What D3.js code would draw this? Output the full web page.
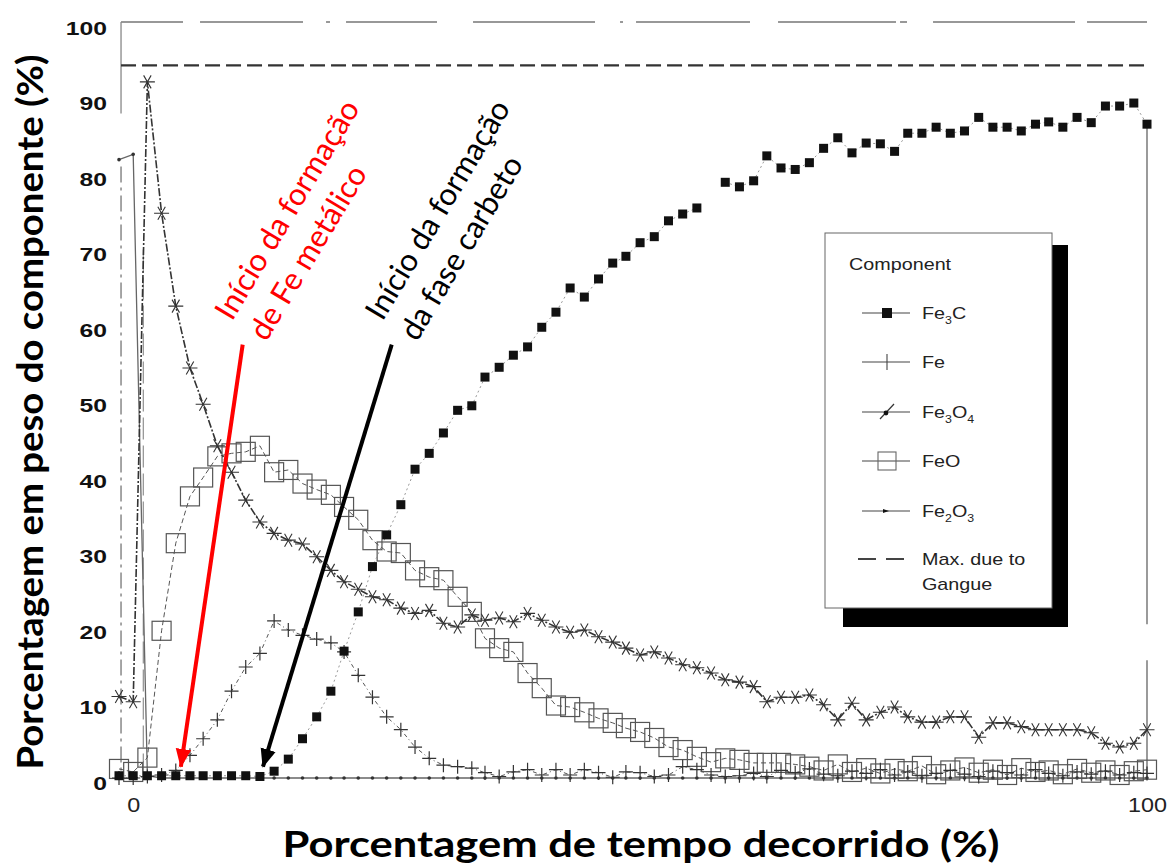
<!DOCTYPE html>
<html>
<head>
<meta charset="utf-8">
<script src="https://cdn.jsdelivr.net/npm/d3@7"></script>
<style>
  body { margin: 0; background: #fff; }
  svg { display: block; }
</style>
</head>
<body>
<svg id="chart" width="1168" height="866"></svg>
<script>
// Elapsed time (%) of each sample
const elapsed = [-1.4,0,1.4,2.8,4.2,5.6,6.9,8.3,9.7,11.1,12.5,13.9,15.3,16.7,18.1,19.5,20.8,22.2,23.6,25.0,
  26.4,27.8,29.2,30.6,32.0,33.4,34.7,36.1,37.5,38.9,40.3,41.7,43.1,44.5,45.9,47.3,48.6,50.0,51.4,52.8,
  54.2,55.6,57.0,58.4,59.8,61.2,62.5,63.9,65.3,66.7,68.1,69.5,70.9,72.3,73.7,75.1,76.4,77.8,79.2,80.6,
  82.0,83.4,84.8,86.2,87.6,89.0,90.3,91.7,93.1,94.5,95.9,97.3,98.7,100.0];

// Weight percent of each component
const fe3c = [0.3,0.3,0.3,0.3,0.3,0.3,0.3,0.3,0.3,0.3,0.2,0.9,2.5,5.2,8.1,11.5,16.8,22.0,28.0,32.2,
  36.2,40.9,43.0,45.7,48.7,49.3,53.1,54.4,56.0,57.1,59.7,61.7,64.9,63.7,66.1,68.2,69.1,70.9,71.7,73.8,
  74.7,75.5,null,78.9,78.3,79.1,82.4,80.8,80.6,81.5,83.4,84.8,82.8,84.1,84.0,83.0,85.4,85.4,86.2,85.4,
  85.7,87.5,86.2,86.2,85.7,86.6,86.9,86.2,87.5,86.8,89.0,89.0,89.4,86.6];
const fe = [0,0,0.2,0.4,1.0,3.0,5.2,7.7,11.5,14.7,16.5,20.8,19.6,18.9,18.4,17.9,16.7,13.6,10.7,8.1,
  6.4,4.1,2.6,1.7,1.5,1.3,0.7,0.2,0.8,1.1,0.4,1.1,0.4,1.1,0.7,0.1,0.8,0.7,0.2,0.4,
  1.5,1.1,0.4,0.2,0.3,0.6,0.2,1.0,0.7,1.2,0.5,0.3,0.9,0.6,1.1,0.4,0.8,0.3,0.6,1.0,
  0.5,0.2,0.9,0.7,0.4,1.1,0.6,0.3,0.8,0.5,0.9,0.4,0.7,0.6];
const fe3o4 = [10.8,10.1,92.2,74.8,62.5,54.3,49.5,44.0,40.5,36.8,33.9,32.4,31.5,31.0,29.3,27.5,26.0,25.0,24.0,23.6,
  22.5,21.8,22.2,20.5,20.0,21.6,20.9,21.2,20.7,21.8,20.9,20.0,19.3,19.6,18.7,18.0,17.2,16.3,16.7,15.9,
  15.0,14.6,13.9,13.0,12.7,12.1,10.1,10.7,10.7,11.0,9.7,7.7,9.9,7.7,8.7,9.4,8.1,7.4,7.4,8.1,
  8.1,5.4,7.3,7.3,6.8,6.4,6.4,6.4,6.4,6.0,4.6,4.1,4.6,6.4];
const feo = [1.2,0.8,2.7,19.5,31.1,37.3,39.8,42.6,43.0,43.2,44.0,40.5,40.8,39.0,38.2,37.5,35.9,34.2,31.5,30.0,
  29.8,27.5,26.6,26.2,24.0,22.0,18.5,17.2,16.7,13.9,11.9,9.6,9.4,8.7,7.9,7.3,6.6,6.1,5.3,4.1,
  3.7,2.8,2.1,2.6,2.4,2.0,2.0,2.0,1.8,1.5,1.0,1.8,0.8,1.3,0.6,1.2,0.9,1.6,0.5,1.0,
  1.4,0.7,1.1,0.4,1.3,0.8,1.0,0.5,1.2,0.7,1.0,0.4,0.9,1.1];
const fe2o3 = [81.9,82.6,0.3,0,0,0,0,0,0,0,0,0,0,0,0,0,0,0,0,0,
  0,0,0,0,0,0,0,0,0,0,0,0,0,0,0,0,0,0,0,0,
  0,0,0,0,0,0,0,0,0,0,0,0,0,0,0,0,0,0,0,0,
  0,0,0,0,0,0,0,0,0,0,0,0,0,0];
const gangueMax = 94.4;

const yTicks = [0,10,20,30,40,50,60,70,80,90,100];
const xTicks = [0,100];

const svg = d3.select('#chart');
const x = d3.scaleLinear().domain([-1.4, 100]).range([119, 1147]);
const y = d3.scaleLinear().domain([0, 100]).range([778, 23]);
const xLeft = -1.2;

const k = 1.3; // horizontal stretch of the figure's own lettering

// ---- frame -------------------------------------------------------------
const frame = svg.append('g').attr('stroke', '#777').attr('fill', 'none').attr('stroke-width', 1.3);
frame.append('line')
  .attr('x1', x(xLeft)).attr('x2', x(100)).attr('y1', y(100) - 1).attr('y2', y(100) - 1)
  .attr('stroke-dasharray', '62,17,103,23,4,16,91,36,122,25,3,13,114,28,118,4,7,26,142,12,61');
frame.append('line')
  .attr('x1', x(xLeft)).attr('x2', x(xLeft)).attr('y1', y(100) - 1).attr('y2', y(88))
  .attr('stroke', '#888');
frame.append('line')
  .attr('x1', x(xLeft)).attr('x2', x(xLeft)).attr('y1', y(81)).attr('y2', y(0))
  .attr('stroke-dasharray', '16,5,3,5');
frame.append('line')
  .attr('x1', x(1.0)).attr('x2', x(1.0)).attr('y1', y(70)).attr('y2', y(0))
  .attr('stroke', '#999').attr('stroke-dasharray', '22,6');
frame.append('line')
  .attr('x1', x(100)).attr('x2', x(100)).attr('y1', y(fe3c[fe3c.length - 1])).attr('y2', y(0))
  .attr('stroke', '#666').attr('stroke-dasharray', '500,36,200');

// maximum allowed by gangue
svg.append('line')
  .attr('x1', x(xLeft)).attr('x2', x(100))
  .attr('y1', y(gangueMax)).attr('y2', y(gangueMax))
  .attr('stroke', '#333').attr('stroke-width', 2.2).attr('stroke-dasharray', '15,6');

// ---- axes --------------------------------------------------------------
const yAxis = svg.append('g')
  .attr('transform', `translate(${x(xLeft)},0)`)
  .call(d3.axisLeft(y).tickValues(yTicks).tickSize(0).tickPadding(14).tickFormat(d3.format('d')));
yAxis.select('.domain').remove();
yAxis.selectAll('text')
  .attr('font-family', '"Liberation Sans", Arial, sans-serif')
  .attr('font-weight', 'bold').attr('font-size', 19).attr('fill', '#111')
  .attr('dy', null).attr('y', 11)
  .attr('x', -14 / k).attr('transform', `scale(${k},1)`);

const xAxis = svg.append('g')
  .attr('transform', `translate(0,${y(0)})`)
  .call(d3.axisBottom(x).tickValues(xTicks).tickSize(0).tickPadding(0).tickFormat(d3.format('d')));
xAxis.select('.domain').remove();
xAxis.selectAll('text')
  .attr('font-family', '"Liberation Sans", Arial, sans-serif')
  .attr('font-size', 20).attr('fill', '#222')
  .attr('dy', null).attr('y', 34)
  .attr('transform', `scale(${k * 0.9},1)`)
  .each(function () {
    const g = d3.select(this.parentNode);
    const tx = +g.attr('transform').match(/translate\(([-\d.]+)/)[1];
    d3.select(this).attr('x', 0);
  });

// ---- series ------------------------------------------------------------
const pts = vals => elapsed.map((t, i) => [t, vals[i]]).filter(d => d[1] != null);
const lineGen = d3.line().defined(d => d[1] != null).x(d => x(d[0])).y(d => y(d[1]));
const rows = vals => elapsed.map((t, i) => [t, vals[i]]);

const plusPath = r => `M${-r},0H${r}M0,${-r}V${r}`;
const starPath = r => {
  let p = '';
  [0, 60, 120].forEach(a => {
    const c = Math.cos(a * Math.PI / 180) * r, s = Math.sin(a * Math.PI / 180) * r;
    p += `M${-c},${-s}L${c},${s}`;
  });
  return p;
};

const plot = svg.append('g');

// Fe2O3
plot.append('path').attr('d', lineGen(rows(fe2o3)))
  .attr('fill', 'none').attr('stroke', '#666').attr('stroke-width', 1.3);
plot.append('g').selectAll('circle').data(pts(fe2o3)).join('circle')
  .attr('cx', d => x(d[0])).attr('cy', d => y(d[1])).attr('r', 1.8).attr('fill', '#333');

// FeO
plot.append('path').attr('d', lineGen(rows(feo)))
  .attr('fill', 'none').attr('stroke', '#555').attr('stroke-width', 1).attr('stroke-dasharray', '5,3');
plot.append('g').selectAll('rect').data(pts(feo)).join('rect')
  .attr('x', d => x(d[0]) - 9.5).attr('y', d => y(d[1]) - 9.5)
  .attr('width', 19).attr('height', 19)
  .attr('fill', 'none').attr('stroke', '#555').attr('stroke-width', 1.2);

// Fe
plot.append('path').attr('d', lineGen(rows(fe)))
  .attr('fill', 'none').attr('stroke', '#555').attr('stroke-width', 1).attr('stroke-dasharray', '4,3,1,3');
plot.append('g').selectAll('path').data(pts(fe)).join('path')
  .attr('transform', d => `translate(${x(d[0])},${y(d[1])})`)
  .attr('d', plusPath(7)).attr('stroke', '#333').attr('stroke-width', 1.2).attr('fill', 'none');

// Fe3O4
plot.append('path').attr('d', lineGen(rows(fe3o4)))
  .attr('fill', 'none').attr('stroke', '#333').attr('stroke-width', 1.6).attr('stroke-dasharray', '8,2,2,2');
plot.append('g').selectAll('path').data(pts(fe3o4)).join('path')
  .attr('transform', d => `translate(${x(d[0])},${y(d[1])})`)
  .attr('d', starPath(7.5)).attr('stroke', '#333').attr('stroke-width', 1.1).attr('fill', 'none');

// Fe3C
plot.append('path').attr('d', lineGen(rows(fe3c)))
  .attr('fill', 'none').attr('stroke', '#999').attr('stroke-width', 1).attr('stroke-dasharray', '2,3');
plot.append('g').selectAll('rect').data(pts(fe3c)).join('rect')
  .attr('x', d => x(d[0]) - 4.5).attr('y', d => y(d[1]) - 4.5)
  .attr('width', 9).attr('height', 9).attr('fill', '#111');

// ---- legend ------------------------------------------------------------
const legendItems = [
  { name: ['Fe', '3', 'C'], kind: 'fe3c', y: 313 },
  { name: ['Fe'], kind: 'fe', y: 362 },
  { name: ['Fe', '3', 'O', '4'], kind: 'fe3o4', y: 412 },
  { name: ['FeO'], kind: 'feo', y: 461 },
  { name: ['Fe', '2', 'O', '3'], kind: 'fe2o3', y: 511 },
  { name: ['Max. due to', 'Gangue'], kind: 'gangue', y: 559 }
];
const lg = svg.append('g');
lg.append('rect').attr('x', 843).attr('y', 245).attr('width', 225).attr('height', 382).attr('fill', '#000');
lg.append('rect').attr('x', 825).attr('y', 233).attr('width', 227).attr('height', 375)
  .attr('fill', '#fff').attr('stroke', '#666').attr('stroke-width', 1);
const lgFont = '"Liberation Sans", Arial, sans-serif';
lg.append('text').attr('transform', `translate(849,270) scale(${k * 0.95},1)`)
  .attr('font-family', lgFont).attr('font-size', 16).attr('fill', '#222').text('Component');

legendItems.forEach(it => {
  const g = lg.append('g').attr('transform', `translate(0,${it.y})`);
  if (it.kind === 'gangue') {
    g.append('line').attr('x1', 858).attr('x2', 910).attr('stroke', '#444').attr('stroke-width', 2)
      .attr('stroke-dasharray', '18,10');
  } else {
    g.append('line').attr('x1', 862).attr('x2', 910).attr('stroke', '#444').attr('stroke-width', 1.1);
  }
  if (it.kind === 'fe3c') g.append('rect').attr('x', 882).attr('y', -5).attr('width', 10).attr('height', 10).attr('fill', '#111');
  if (it.kind === 'fe') g.append('path').attr('transform', 'translate(887,0)').attr('d', `M0,-8V8`).attr('stroke', '#444').attr('stroke-width', 1.1);
  if (it.kind === 'fe3o4') {
    g.append('path').attr('d', 'M880,7L894,-8').attr('stroke', '#333').attr('stroke-width', 1.2);
    g.append('circle').attr('cx', 886).attr('cy', 1).attr('r', 2.4).attr('fill', '#111');
  }
  if (it.kind === 'feo') g.append('rect').attr('x', 878).attr('y', -9).attr('width', 18).attr('height', 18)
    .attr('fill', 'none').attr('stroke', '#666').attr('stroke-width', 1.1);
  if (it.kind === 'fe2o3') g.append('path').attr('d', 'M883,-2L889,0L883,2Z').attr('fill', '#111');

  const t = g.append('text').attr('transform', `translate(922,6) scale(${k * 0.95},1)`)
    .attr('font-family', lgFont).attr('font-size', 16).attr('fill', '#222');
  if (it.kind === 'gangue') {
    t.append('tspan').attr('x', 0).text(it.name[0]);
    t.append('tspan').attr('x', 0).attr('dy', 25).text(it.name[1]);
  } else {
    it.name.forEach((s, i) => {
      const sub = /^\d$/.test(s);
      t.append('tspan').attr('font-size', sub ? 10 : 16).attr('dy', sub ? 5 : (i > 0 ? -5 : 0)).text(s);
    });
  }
});

// ---- annotations -------------------------------------------------------
const notes = [
  { lines: ['Início da formação', 'de Fe metálico'], color: '#ff0000', at: [9.75, 60.4], from: [10.8, 57.4], to: [4.7, 1.5] },
  { lines: ['Início da formação', 'da fase carbeto'], color: '#000000', at: [24.6, 60.4], from: [25.5, 57.4], to: [12.8, 1.5] }
];
const defs = svg.append('defs');
notes.forEach((n, i) => {
  defs.append('marker').attr('id', 'head' + i)
    .attr('markerUnits', 'userSpaceOnUse').attr('markerWidth', 20).attr('markerHeight', 20)
    .attr('viewBox', '0 -8 18 16').attr('refX', 16).attr('refY', 0).attr('orient', 'auto')
    .append('path').attr('d', 'M0,-7L17,0L0,7Z').attr('fill', n.color);
  svg.append('line')
    .attr('x1', x(n.from[0])).attr('y1', y(n.from[1]))
    .attr('x2', x(n.to[0])).attr('y2', y(n.to[1]))
    .attr('stroke', n.color).attr('stroke-width', 4)
    .attr('marker-end', `url(#head${i})`);
  const t = svg.append('text')
    .attr('transform', `translate(${x(n.at[0])},${y(n.at[1])}) rotate(-59)`)
    .attr('font-family', 'Lato, "Open Sans", sans-serif').attr('font-size', 31).attr('fill', n.color);
  n.lines.forEach((s, j) => t.append('tspan').attr('x', 0).attr('dy', j ? 40 : 0).text(s));
});

// ---- axis titles -------------------------------------------------------
svg.append('text')
  .attr('x', 641).attr('y', 857).attr('text-anchor', 'middle')
  .attr('font-family', 'Lato, "Open Sans", sans-serif').attr('font-weight', 'bold')
  .attr('font-size', 36).attr('fill', '#000')
  .attr('textLength', 717).attr('lengthAdjust', 'spacingAndGlyphs')
  .text('Porcentagem de tempo decorrido (%)');
svg.append('text')
  .attr('transform', 'translate(43,412) rotate(-90)').attr('text-anchor', 'middle')
  .attr('font-family', 'Lato, "Open Sans", sans-serif').attr('font-weight', 'bold')
  .attr('font-size', 36).attr('fill', '#000')
  .attr('textLength', 715).attr('lengthAdjust', 'spacingAndGlyphs')
  .text('Porcentagem em peso do componente (%)');
</script>
</body>
</html>
